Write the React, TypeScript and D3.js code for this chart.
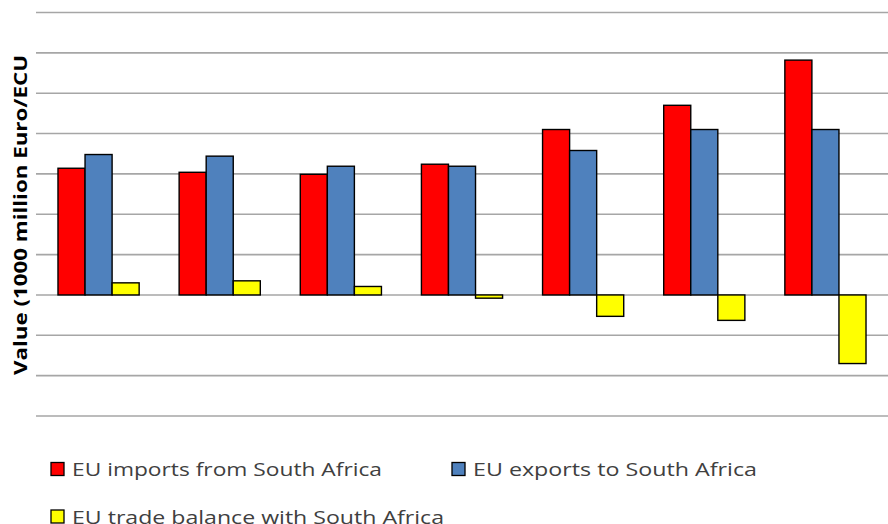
import React from "react";
import * as d3 from "d3";

const categories = ["2002", "2003", "2004", "2005", "2006", "2007", "2008"];
const imports = [15.7, 15.2, 14.95, 16.2, 20.5, 23.5, 29.1];
const exports = [17.4, 17.2, 15.95, 15.95, 17.9, 20.5, 20.5];
const balance = [1.5, 1.75, 1.05, -0.4, -2.65, -3.15, -8.5];
const seriesNames = [
  "EU imports from South Africa",
  "EU exports to South Africa",
  "EU trade balance with South Africa",
];
const seriesColors = ["#ff0000", "#4f81bd", "#ffff00"];
const gridTicks = [-15, -10, -5, 0, 5, 10, 15, 20, 25, 30, 35];
const yLabel = "Value (1000 million Euro/ECU";

export default function App() {
  const W = 888;
  const H = 524;
  const x0 = d3
    .scaleBand<string>()
    .domain(categories)
    .range([38, 886])
    .paddingInner(0.33)
    .paddingOuter(0.165);
  const x1 = d3
    .scaleBand<number>()
    .domain([0, 1, 2])
    .range([0, x0.bandwidth()]);
  const y = d3.scaleLinear().domain([-15, 35]).range([416, 12.5]);
  const series = [imports, exports, balance];

  return (
    <svg
      width={W}
      height={H}
      style={{ position: "absolute", left: 0, top: 0, display: "block", background: "#fff" }}
    >
      <g>
        {gridTicks.map((t) => (
          <line
            key={t}
            x1={36}
            x2={888}
            y1={y(t)}
            y2={y(t)}
            stroke="#a6a6a6"
            strokeWidth={1.6}
          />
        ))}
      </g>
      <g>
        {categories.map((c, i) => (
          <g key={c} transform={`translate(${x0(c)},0)`}>
            {series.map((s, k) => {
              const v = s[i];
              const y0 = y(0);
              const yv = y(v);
              return (
                <rect
                  key={k}
                  x={x1(k)}
                  y={Math.min(y0, yv)}
                  width={x1.bandwidth()}
                  height={Math.abs(yv - y0)}
                  fill={seriesColors[k]}
                  stroke="#000"
                  strokeWidth={1.4}
                />
              );
            })}
          </g>
        ))}
      </g>
      <text
        transform={`translate(27,375) rotate(-90)`}
        fontFamily="'Open Sans', 'DejaVu Sans', sans-serif"
        fontWeight="bold"
        fontSize={17}
        fill="#000"
        textLength={320}
        lengthAdjust="spacingAndGlyphs"
      >
        {yLabel}
      </text>
      <g fontFamily="'Open Sans', 'Liberation Sans', sans-serif" fontSize={19} fill="#404040">
        {[
          { k: 0, x: 51, y: 462.5, len: 310 },
          { k: 1, x: 452, y: 462.5, len: 284 },
          { k: 2, x: 51, y: 510, len: 372 },
        ].map((l) => (
          <g key={l.k}>
            <rect
              x={l.x}
              y={l.y}
              width={13}
              height={13}
              fill={seriesColors[l.k]}
              stroke="#000"
              strokeWidth={1.3}
            />
            <text
              x={l.x + 21}
              y={l.y + 13.5}
              textLength={l.len}
              lengthAdjust="spacingAndGlyphs"
            >
              {seriesNames[l.k]}
            </text>
          </g>
        ))}
      </g>
    </svg>
  );
}
